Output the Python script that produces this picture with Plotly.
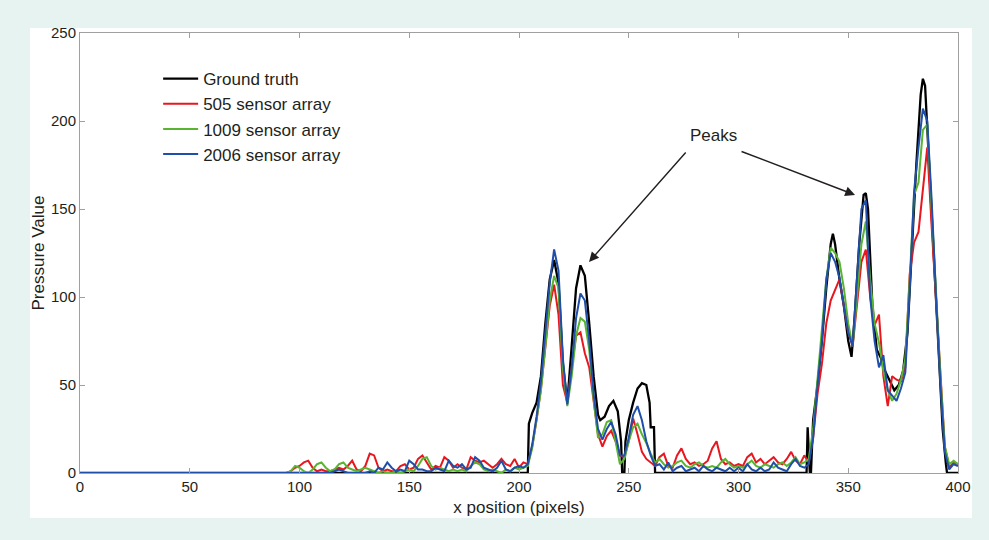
import plotly.graph_objects as go

# ---------------- data ----------------
# shared sample grid for the three sensor-array reconstructions
x_grid = [0] + list(range(94, 401, 2))

y_505 = [0,
    0, 1, 3, 4, 6, 7, 3, 1, 2, 1, 1, 2, 3, 2, 4, 7, 2, 1, 4, 11,      # 94-132
    10, 3, 1, 2, 1, 1, 4, 5, 2, 3, 8, 10, 6, 2, 4, 3, 9, 7, 3, 5,      # 134-172
    3, 2, 9, 7, 6, 7, 5, 3, 5, 8, 5, 4, 8, 3, 6, 5, 15, 30, 48, 70,    # 174-212
    95, 107, 90, 50, 40, 60, 78, 80, 68, 60, 40, 22, 15, 21, 24, 18, 10, 9, 18, 31,   # 214-252
    22, 12, 8, 6, 4, 9, 11, 4, 3, 10, 14, 8, 5, 6, 4, 5, 7, 14, 18, 8,  # 254-292
    5, 6, 4, 5, 4, 9, 11, 6, 8, 5, 7, 9, 6, 5, 8, 12, 7, 5, 10, 6,     # 294-332
    20, 45, 62, 85, 98, 104, 110, 95, 80, 72, 95, 120, 127, 100, 84, 90, 55, 38, 55, 53,  # 334-372
    52, 60, 113, 131, 137, 160, 185, 140, 100, 55, 15, 3, 6, 5]        # 374-400

y_1009 = [0,
    0, 1, 4, 3, 1, 0, 2, 5, 6, 3, 1, 2, 5, 6, 3, 2, 1, 2, 3, 2,        # 94-132
    1, 0, 1, 0, 0, 1, 0, 1, 2, 1, 4, 8, 9, 4, 2, 3, 2, 1, 2, 1,        # 134-172
    2, 1, 4, 6, 5, 2, 1, 2, 1, 0, 2, 1, 3, 2, 3, 4, 14, 30, 47, 72,    # 174-212
    98, 112, 105, 60, 38, 55, 78, 88, 86, 70, 42, 20, 22, 29, 30, 18, 5, 8, 18, 26,   # 214-252
    28, 22, 17, 11, 6, 8, 5, 3, 4, 6, 7, 4, 3, 5, 6, 4, 3, 4, 3, 6,    # 254-292
    8, 5, 3, 4, 3, 5, 7, 4, 3, 5, 4, 3, 5, 6, 4, 6, 9, 5, 6, 8,        # 294-332
    25, 55, 80, 110, 128, 125, 120, 105, 85, 72, 100, 130, 143, 110, 85, 74, 58, 47, 41, 45,  # 334-372
    53, 65, 110, 158, 165, 195, 198, 150, 100, 55, 15, 5, 7, 5]        # 374-400

y_2006 = [0,
    0, 0, 0, 0, 0, 0, 0, 0, 0, 0, 0, 1, 2, 1, 0, 0, 0, 0, 0, 1,        # 94-132
    0, 3, 2, 6, 3, 1, 2, 1, 7, 5, 2, 2, 1, 1, 3, 2, 1, 7, 4, 3,        # 134-172
    5, 2, 3, 9, 7, 3, 2, 1, 3, 7, 2, 1, 3, 4, 3, 5, 16, 32, 52, 80,    # 174-212
    108, 127, 115, 65, 39, 60, 88, 102, 98, 75, 45, 25, 19, 25, 29, 22, 10, 10, 20, 33,  # 214-252
    38, 30, 18, 10, 4, 5, 2, 6, 1, 3, 4, 1, 2, 3, 1, 4, 2, 1, 3, 2,    # 254-292
    1, 3, 1, 3, 1, 5, 2, 1, 3, 1, 2, 6, 3, 2, 1, 5, 8, 4, 3, 5,        # 294-332
    20, 50, 75, 110, 125, 120, 111, 95, 80, 72, 110, 150, 155, 100, 75, 60, 67, 47, 44, 41,  # 334-372
    48, 57, 105, 160, 185, 207, 200, 155, 100, 50, 12, 2, 5, 4]        # 374-400

# ground truth, sampled where it changes
gt_x = [0, 204, 204.5, 206, 208, 210, 212, 214, 216, 218, 220, 222, 224, 226, 228,
        230, 232, 234, 236, 237, 239, 241, 243, 245, 246.5, 247, 248, 248.5, 250,
        252, 254, 256, 258, 259.5, 260, 261.5, 262, 331, 331.5, 332.5, 333, 334,
        336, 338, 340, 342, 343, 344, 346, 348, 350, 351.5, 353, 355, 357, 358,
        359, 361, 363, 365, 366, 368, 370, 371, 373, 375, 377, 379, 381, 383, 384,
        385, 387, 389, 391, 393, 394.5, 395, 400]
gt_y = [0, 0, 28, 34, 40, 55, 85, 110, 121, 108, 62, 40, 72, 105, 118,
        112, 85, 55, 33, 30, 32, 38, 41, 35, 18, 0, 0, 18, 30,
        40, 48, 51, 50, 40, 26, 26, 0, 0, 26, 0, 0, 30,
        50, 75, 105, 130, 136, 130, 110, 95, 75, 66, 90, 130, 158, 159,
        150, 95, 70, 65, 60, 55, 50, 47, 50, 58, 80, 130, 175, 215, 224,
        220, 170, 120, 70, 25, 5, 0, 0]

series_names = ["Ground truth", "505 sensor array", "1009 sensor array", "2006 sensor array"]
series_colors = ["#000000", "#e8161f", "#58b431", "#1f4fa8"]

x_ticks = [0, 50, 100, 150, 200, 250, 300, 350, 400]
y_ticks = [0, 50, 100, 150, 200, 250]

peak_label = "Peaks"
peak_tips = [(231.9, 119.9), (353.1, 158.0)]
peak_tails_px = [(98, -111), (-115, -44)]

# ---------------- figure ----------------
fig = go.Figure()
xs = [gt_x, x_grid, x_grid, x_grid]
ys = [gt_y, y_505, y_1009, y_2006]
widths = [2.3, 2, 2, 2]
for i in range(4):
    fig.add_trace(go.Scatter(
        x=xs[i], y=ys[i], mode="lines", name=series_names[i],
        line=dict(color=series_colors[i], width=widths[i]),
    ))

font_family = "Liberation Sans, Arial, sans-serif"
txt_size = 17

fig.update_layout(
    width=989, height=540,
    margin=dict(l=80, r=31, t=33, b=67),
    paper_bgcolor="#e7f3f0",
    plot_bgcolor="#ffffff",
    font=dict(family=font_family, size=15, color="#231f20"),
    showlegend=True,
    legend=dict(
        x=0.089, y=0.936, xanchor="left", yanchor="top",
        bgcolor="rgba(0,0,0,0)", borderwidth=0,
        font=dict(size=txt_size, color="#231f20"),
        itemwidth=35,
    ),
    xaxis=dict(
        range=[0, 400], tickvals=x_ticks, ticktext=[str(v) for v in x_ticks],
        showgrid=False, zeroline=False,
        showline=True, linecolor="#a0a0a0", linewidth=1, mirror="ticks",
        ticks="inside", ticklen=5, tickcolor="#a0a0a0",
        title=dict(text="x position (pixels)", standoff=7, font=dict(size=txt_size)),
        tickfont=dict(size=15),
    ),
    yaxis=dict(
        range=[0, 250], tickvals=y_ticks, ticktext=[str(v) for v in y_ticks],
        showgrid=False, zeroline=False,
        showline=True, linecolor="#a0a0a0", linewidth=1, mirror="ticks",
        ticks="inside", ticklen=5, tickcolor="#a0a0a0",
        title=dict(text="Pressure Value", standoff=2, font=dict(size=txt_size)),
        tickfont=dict(size=15),
    ),
    shapes=[dict(
        type="rect", xref="paper", yref="paper",
        x0=-50 / 878, x1=1 + 14 / 878, y0=-45 / 440, y1=1 + 5 / 440,
        fillcolor="#ffffff", line=dict(width=0), layer="below",
    )],
)

fig.add_annotation(x=288.8, y=191.5, xref="x", yref="y", text=peak_label,
                   showarrow=False, font=dict(size=txt_size, color="#231f20"))
for (tx, ty), (ax, ay) in zip(peak_tips, peak_tails_px):
    fig.add_annotation(x=tx, y=ty, xref="x", yref="y", text="",
                       showarrow=True, ax=ax, ay=ay, axref="pixel", ayref="pixel",
                       arrowhead=2, arrowsize=1.4, arrowwidth=1.4,
                       arrowcolor="#231f20")

fig.write_html("out.html", config={"displayModeBar": False},
               post_script="document.body.style.margin='0';")
